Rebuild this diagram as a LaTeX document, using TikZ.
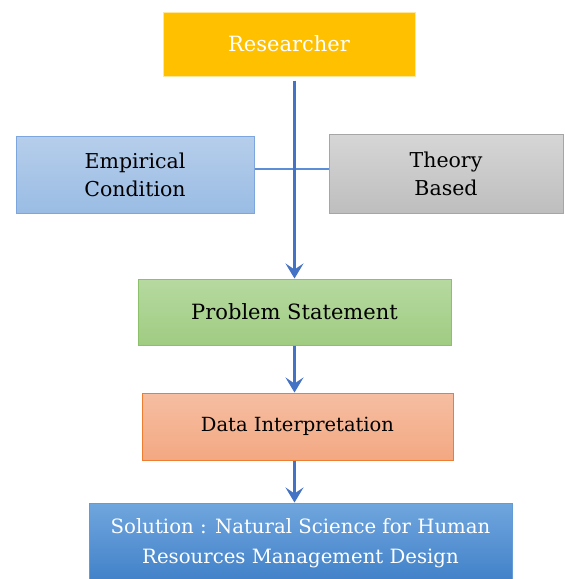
\documentclass[tikz,border=0pt]{standalone}
\usepackage{fontspec}
\setmainfont{DejaVu Serif}
\usetikzlibrary{arrows.meta}
\definecolor{arrowblue}{HTML}{4472C4}
\definecolor{linkblue}{HTML}{5B8ED6}
\definecolor{resfill}{HTML}{FFC000}
\definecolor{resdraw}{HTML}{FFE699}
\definecolor{empdraw}{HTML}{7EA6DE}
\definecolor{emptop}{HTML}{B6CEEB}
\definecolor{empbot}{HTML}{9ABCE4}
\definecolor{thdraw}{HTML}{A6A6A6}
\definecolor{thtop}{HTML}{D6D6D6}
\definecolor{thbot}{HTML}{BEBEBE}
\definecolor{prdraw}{HTML}{8CC06A}
\definecolor{prtop}{HTML}{B6D9A0}
\definecolor{prbot}{HTML}{A0CC82}
\definecolor{dadraw}{HTML}{ED7D31}
\definecolor{datop}{HTML}{F6BEA2}
\definecolor{dabot}{HTML}{F3A882}
\definecolor{sodraw}{HTML}{649BD7}
\definecolor{sotop}{HTML}{70A6DE}
\definecolor{sobot}{HTML}{4080C8}
\tikzset{
  box/.style={rectangle, draw, line width=1pt, inner sep=2pt, align=center},
  flowarrow/.style={draw=arrowblue, line width=3.5pt, -{Stealth[length=15pt,width=18pt,inset=6pt]}},
  bigtext/.style={font=\fontsize{21}{29}\selectfont},
  datatext/.style={font=\fontsize{19.5}{27}\selectfont},
  soltext/.style={font=\fontsize{19.7}{30}\selectfont},
  midtext/.style={font=\fontsize{20.5}{28}\selectfont},
}
\begin{document}
\begin{tikzpicture}[x=1pt,y=-1pt]
\useasboundingbox (0,0) rectangle (565,579);
\node[box, bigtext, draw=resdraw, fill=resfill, text=white,
  minimum width=252pt, minimum height=64pt] (R) at (289,44) {Researcher};
\node[box, midtext, draw=empdraw, top color=emptop, bottom color=empbot,
  minimum width=238pt, minimum height=77pt] (E) at (135,174.5) {Empirical\\Condition};
\node[box, midtext, draw=thdraw, top color=thtop, bottom color=thbot,
  minimum width=234pt, minimum height=79pt] (T) at (446,173.5) {Theory\\Based};
\node[box, bigtext, draw=prdraw, top color=prtop, bottom color=prbot,
  minimum width=313pt, minimum height=66pt] (P) at (294.5,312) {Problem Statement};
\node[box, datatext, draw=dadraw, top color=datop, bottom color=dabot,
  minimum width=311pt, minimum height=67pt] (D) at (297.5,426.5) {Data Interpretation};
\node[box, soltext, draw=sodraw, top color=sotop, bottom color=sobot, text=white,
  minimum width=423pt, minimum height=80pt] (S) at (300.5,543) {Solution : Natural Science for Human\\Resources Management Design};
\coordinate (L) at (0,169);
\draw[draw=linkblue, line width=1.5pt] (E.east |- L) -- (T.west |- L);
\draw[flowarrow] ([yshift=-4pt]R.south -| P.north) -- (P.north);
\draw[flowarrow] (P.south) -- (D.north -| P.south);
\draw[flowarrow] (D.south -| P.south) -- (S.north -| P.south);
\end{tikzpicture}
\end{document}
